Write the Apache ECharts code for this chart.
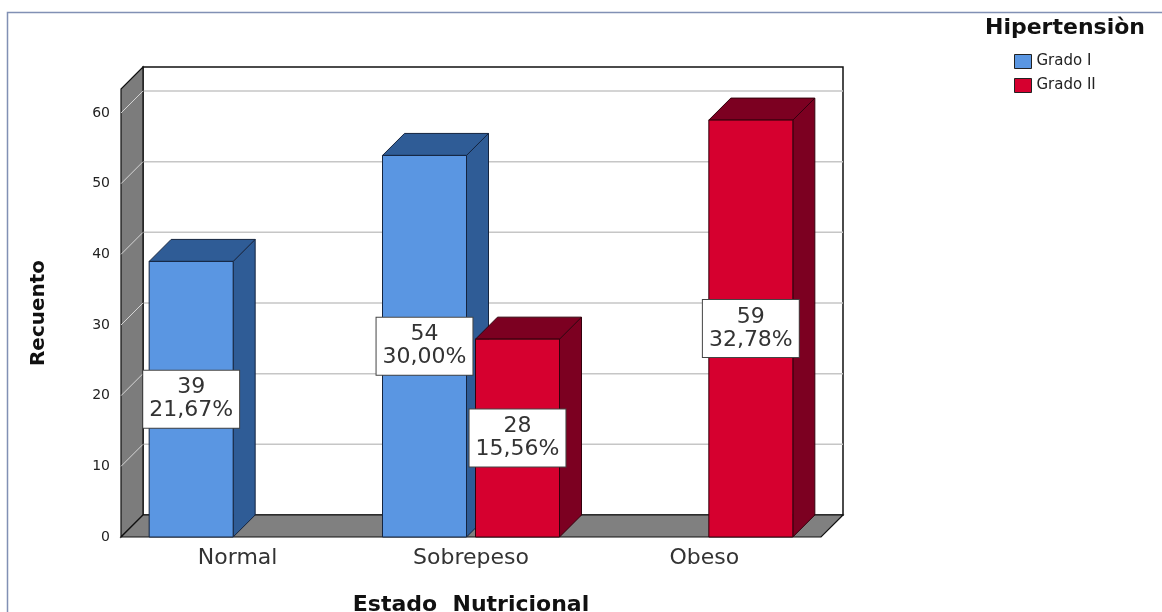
<!DOCTYPE html>
<html>
<head>
<meta charset="utf-8">
<script src="https://cdn.jsdelivr.net/npm/echarts@6/dist/echarts.min.js"></script>
<style>
  html, body { margin: 0; padding: 0; background: #fff; }
  #chart { width: 1162px; height: 612px; }
</style>
</head>
<body>
<div id="chart"></div>
<script>
// Counts per nutritional state, split by hypertension grade
const categories = ['Normal', 'Sobrepeso', 'Obeso'];
const seriesNames = ['Grado I', 'Grado II'];
const gradoI = [39, 54, null];
const gradoII = [null, 28, 59];
const yTicks = [0, 10, 20, 30, 40, 50, 60];
const yMax = 63.4;

const total = gradoI.concat(gradoII).reduce((s, v) => s + (v || 0), 0);
function pct(v) {
  return (v / total * 100).toFixed(2).replace('.', ',') + '%';
}

const DEPTH = 22;   // pseudo-3D depth offset (px)
const BAR_W = 84;
const GAP = 9;
const FONT = '"DejaVu Sans", sans-serif';

const palette = [
  { front: '#5a96e2', dark: '#2f5c96', edge: '#14243f' },
  { front: '#d6002f', dark: '#7c0021', edge: '#33000c' }
];

// Back wall, left wall, floor and grid lines of the box
function frameRenderer(params, api) {
  const cs = params.coordSys;
  const gx = cs.x, gy = cs.y, gw = cs.width, gh = cs.height, d = DEPTH;
  const yb = gy + gh;
  const children = [];
  children.push({
    type: 'rect',
    shape: { x: gx + d, y: gy - d, width: gw, height: gh },
    style: { fill: '#ffffff', stroke: '#111', lineWidth: 1.5 }
  });
  yTicks.forEach(function (t) {
    if (t === 0) return;
    const y = api.coord([0, t])[1];
    children.push({
      type: 'line',
      shape: { x1: gx + d, y1: y - d, x2: gx + gw + d, y2: y - d },
      style: { stroke: '#c6c6c6', lineWidth: 1.5 }
    });
  });
  children.push({
    type: 'polygon',
    shape: { points: [[gx, yb], [gx, gy], [gx + d, gy - d], [gx + d, yb - d]] },
    style: { fill: '#7c7c7c', stroke: '#111', lineWidth: 1.2 }
  });
  yTicks.forEach(function (t) {
    if (t === 0) return;
    const y = api.coord([0, t])[1];
    children.push({
      type: 'line',
      shape: { x1: gx, y1: y, x2: gx + d, y2: y - d },
      style: { stroke: 'rgba(235,235,235,0.8)', lineWidth: 1 }
    });
  });
  children.push({
    type: 'polygon',
    shape: { points: [[gx, yb], [gx + d, yb - d], [gx + gw + d, yb - d], [gx + gw, yb]] },
    style: { fill: '#808080', stroke: '#111', lineWidth: 1.2 }
  });
  return { type: 'group', children: children };
}

// One pseudo-3D bar: front face, side face, top face and value label
function barRenderer(sIdx) {
  const col = palette[sIdx];
  return function (params, api) {
    const v = api.value(1);
    if (v == null || isNaN(v)) return null;
    const top = api.coord([api.value(0), v]);
    const base = api.coord([api.value(0), 0]);
    const cx = top[0];
    const x0 = sIdx === 0 ? cx - GAP / 2 - BAR_W : cx + GAP / 2;
    const x1 = x0 + BAR_W;
    const yT = top[1], yB = base[1], d = DEPTH;
    const edge = { stroke: col.edge, lineWidth: 1 };
    return {
      type: 'group',
      children: [
        { type: 'polygon', shape: { points: [[x1, yT], [x1 + d, yT - d], [x1 + d, yB - d], [x1, yB]] },
          style: Object.assign({ fill: col.dark }, edge) },
        { type: 'polygon', shape: { points: [[x0, yT], [x0 + d, yT - d], [x1 + d, yT - d], [x1, yT]] },
          style: Object.assign({ fill: col.dark }, edge) },
        { type: 'rect', shape: { x: x0, y: yT, width: BAR_W, height: yB - yT },
          style: Object.assign({ fill: col.front }, edge) },
        { type: 'text', x: (x0 + x1) / 2, y: (yT + yB) / 2, z2: 10,
          style: {
            text: v + '\n' + pct(v),
            fill: '#333', fontFamily: FONT, fontSize: 22, lineHeight: 23,
            align: 'center', verticalAlign: 'middle',
            backgroundColor: '#ffffff', borderColor: '#444', borderWidth: 1,
            padding: [6, 6, 5, 6]
          } }
      ]
    };
  };
}

const chart = echarts.init(document.getElementById('chart'), null, { renderer: 'canvas' });
chart.setOption({
  animation: false,
  backgroundColor: '#ffffff',
  graphic: [{
    type: 'rect', z: -10, silent: true,
    shape: { x: 7.5, y: 12.5, width: 1300, height: 700 },
    style: { fill: 'none', stroke: '#8190b4', lineWidth: 1.5 }
  }],
  title: {
    text: 'Hipertensiòn', left: 985, top: 17, padding: 0,
    textStyle: { fontFamily: FONT, fontWeight: 'bold', fontSize: 22, color: '#111' }
  },
  legend: {
    data: seriesNames, orient: 'vertical', left: 1014, top: 54, padding: 0,
    itemWidth: 17, itemHeight: 14, itemGap: 9, icon: 'rect',
    itemStyle: { borderColor: '#222', borderWidth: 1 },
    textStyle: { fontFamily: FONT, fontSize: 15, color: '#222' }
  },
  grid: { left: 121, right: 341, top: 89, bottom: 75, containLabel: false, outerBoundsMode: 'none' },
  xAxis: {
    type: 'category', data: categories,
    axisLine: { show: false }, axisTick: { show: false }, splitLine: { show: false },
    axisLabel: { margin: 10, fontFamily: FONT, fontSize: 22, color: '#333' },
    name: 'Estado  Nutricional', nameLocation: 'middle', nameGap: 57,
    nameTextStyle: { fontFamily: FONT, fontWeight: 'bold', fontSize: 22, color: '#111' }
  },
  yAxis: {
    type: 'value', min: 0, max: yMax, interval: 10,
    axisLine: { show: false }, axisTick: { show: false }, splitLine: { show: false },
    axisLabel: {
      margin: 11, fontFamily: FONT, fontSize: 14, color: '#222',
      formatter: function (v) { return yTicks.indexOf(v) >= 0 ? String(v) : ''; }
    },
    name: 'Recuento', nameLocation: 'middle', nameGap: 72, nameRotate: 90,
    nameTextStyle: { fontFamily: FONT, fontWeight: 'bold', fontSize: 20, color: '#111' }
  },
  series: [
    { type: 'custom', name: 'frame', z: 1, silent: true, renderItem: frameRenderer, data: [[0, 0]] },
    { type: 'custom', name: seriesNames[0], z: 2, itemStyle: { color: palette[0].front },
      renderItem: barRenderer(0), data: gradoI.map(function (v, i) { return [i, v]; }) },
    { type: 'custom', name: seriesNames[1], z: 3, itemStyle: { color: palette[1].front },
      renderItem: barRenderer(1), data: gradoII.map(function (v, i) { return [i, v]; }) }
  ]
});
</script>
</body>
</html>
